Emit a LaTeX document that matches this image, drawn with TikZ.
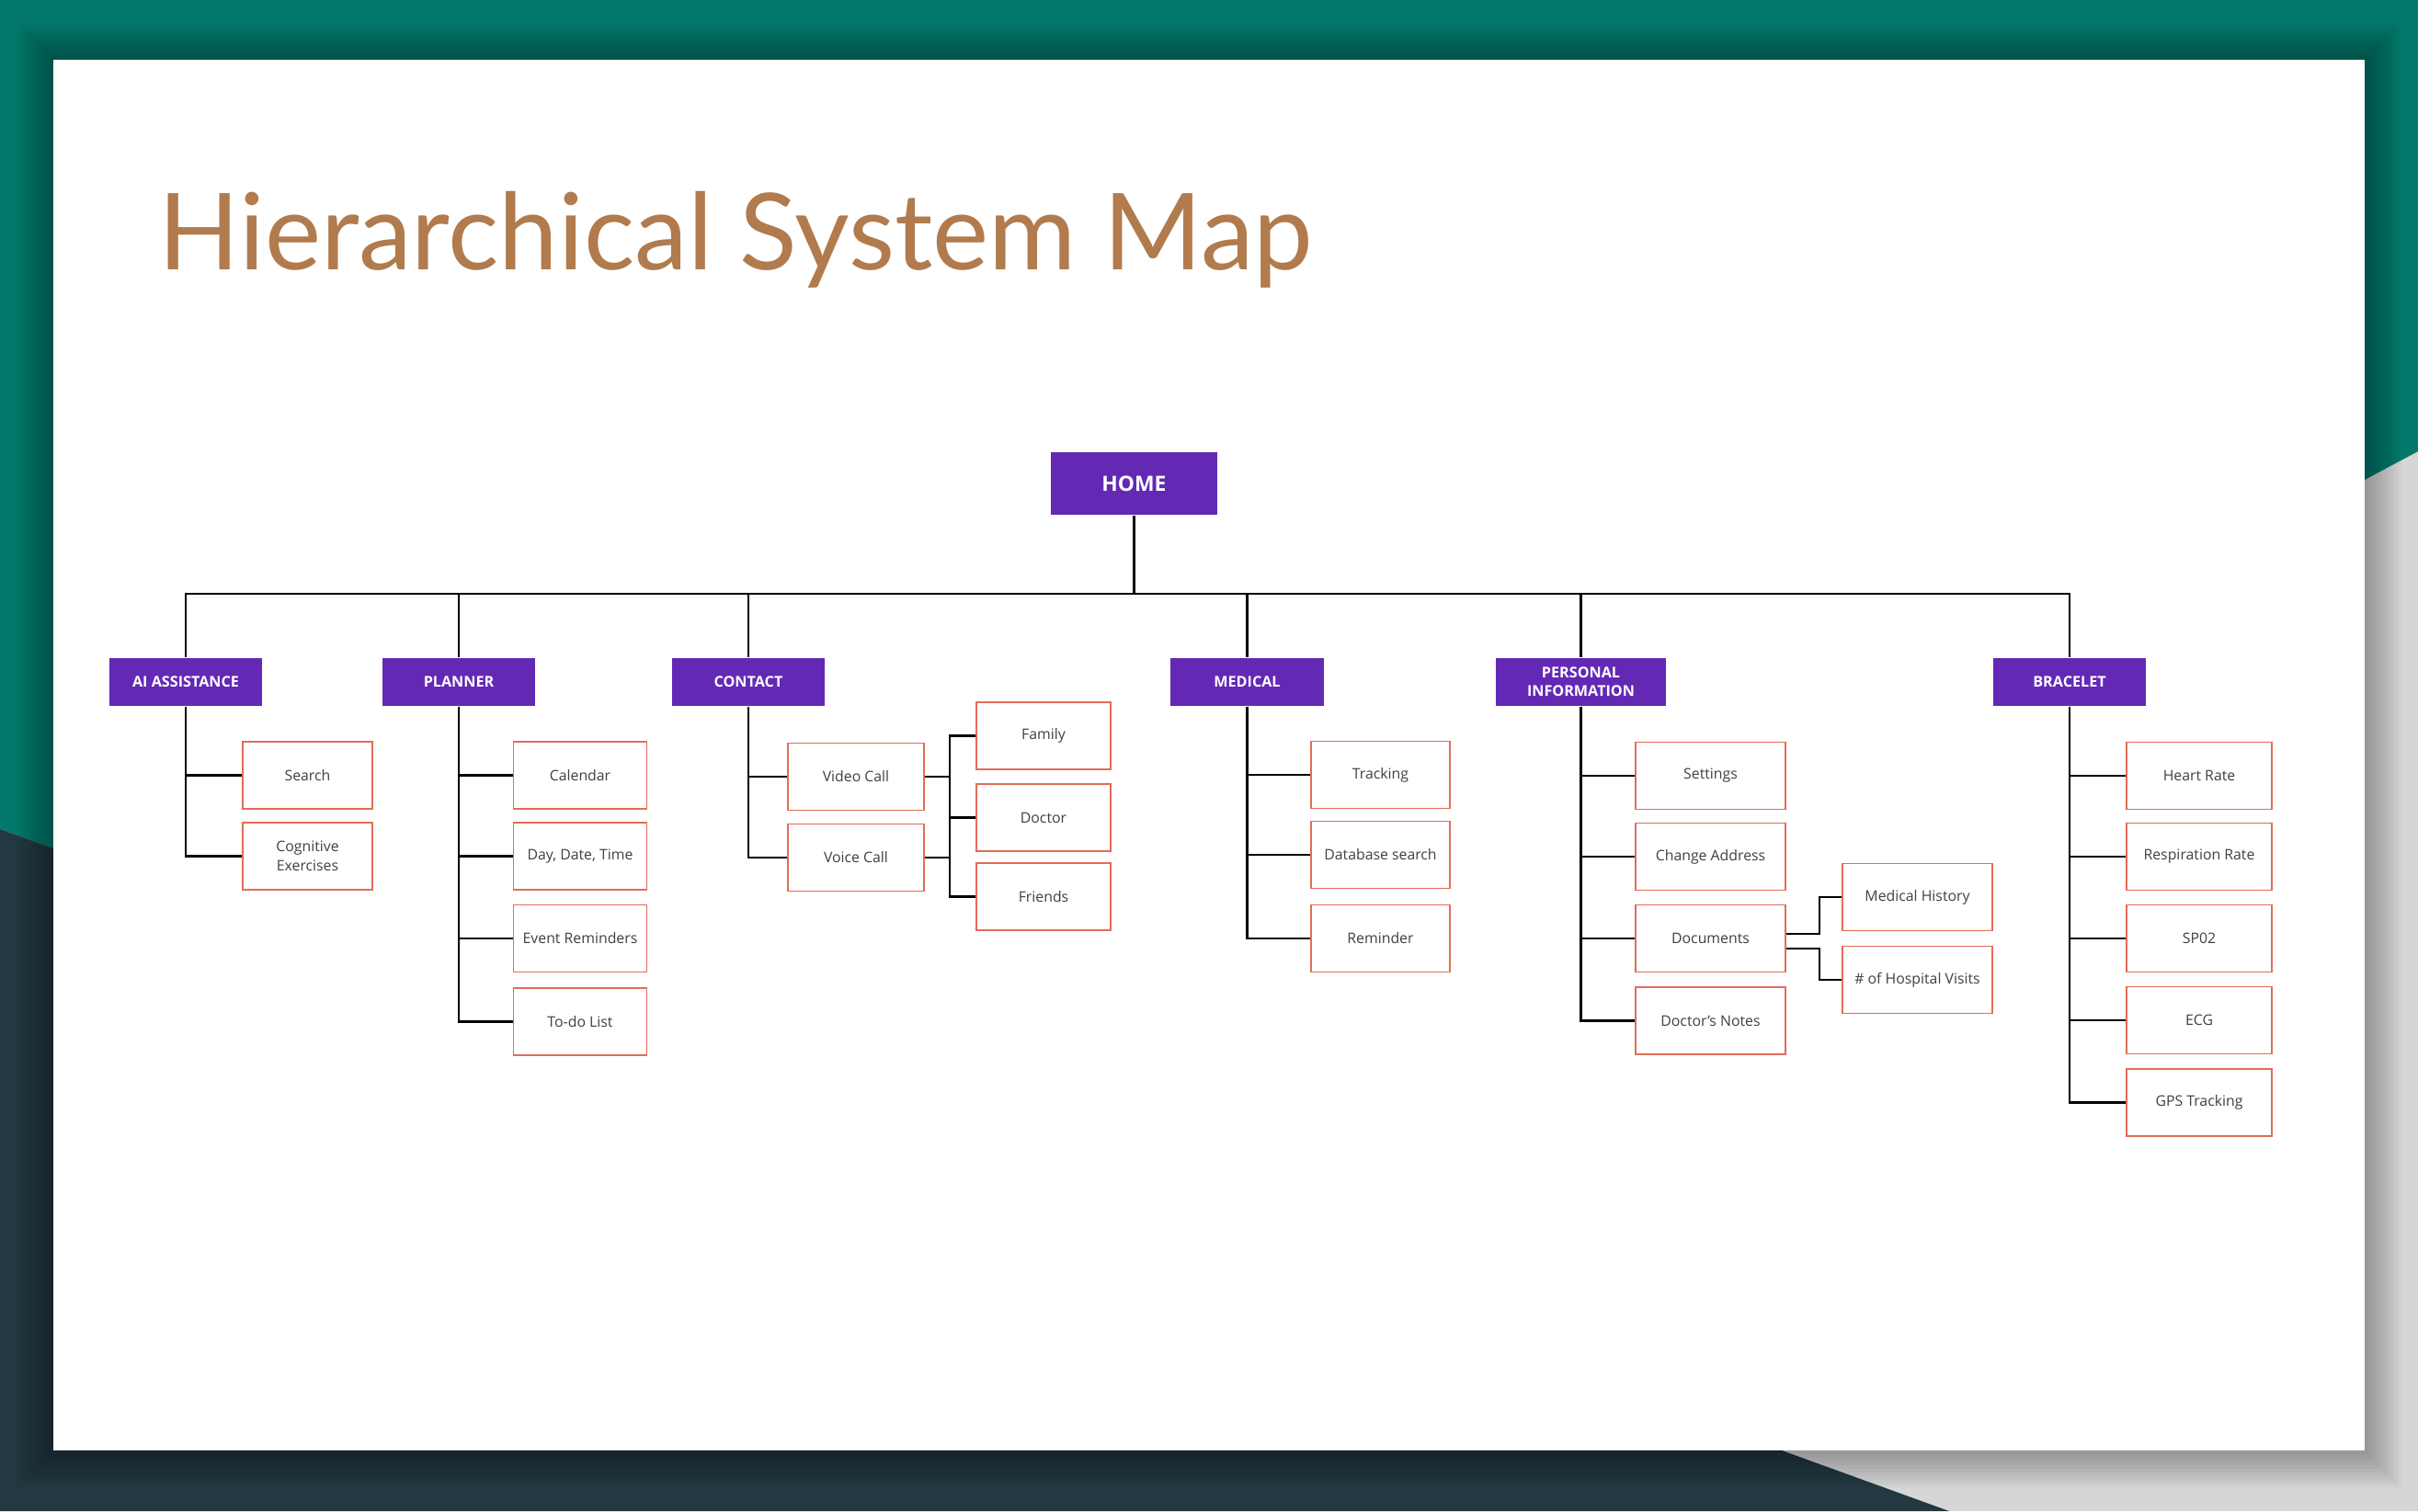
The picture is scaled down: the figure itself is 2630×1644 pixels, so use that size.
\documentclass[tikz,border=0pt]{standalone}
\usepackage{fontspec}
\setmainfont{Open Sans}
\newfontfamily\titlefont{Lato}
\definecolor{tealbg}{RGB}{3,121,108}
\definecolor{slatebg}{RGB}{35,56,65}
\definecolor{graybg}{RGB}{214,214,214}
\definecolor{purp}{RGB}{99,41,181}
\definecolor{salmon}{RGB}{226,108,88}
\definecolor{titlec}{RGB}{177,123,78}
\definecolor{txt}{RGB}{64,64,64}
\begin{document}
\begin{tikzpicture}[x=0.01cm,y=-0.01cm,
  catbox/.style={fill=purp, draw=none, text=white, font=\fontsize{4.6}{5.6}\selectfont\bfseries,
    minimum width=1.66cm, minimum height=0.52cm, inner sep=0pt, align=center},
  leaf/.style={draw=salmon, line width=0.5pt, fill=white, text=txt, font=\fontsize{4.5}{6}\selectfont,
    minimum height=0.73cm, inner sep=0pt, align=center},
  link/.style={draw=black, line width=0.7pt},
]
\useasboundingbox (0,0) rectangle (2630,1644);
% background
\fill[graybg] (0,0) rectangle (2630,1644);
\fill[tealbg] (0,0) -- (2630,0) -- (2630,491) -- (2572,522) -- (1500,800) -- (58,923) -- (0,902) -- cycle;
\fill[slatebg] (0,902) -- (58,923) -- (1000,1300) -- (1938,1578) -- (2120,1644) -- (0,1644) -- cycle;
\foreach \i in {1,...,10}
  \fill[black,opacity=0.03] (58-4*\i,65-4*\i) rectangle (2572+4*\i,1578+4*\i);
\fill[white] (58,65) rectangle (2572,1578);

% title
\node[anchor=base west, inner sep=0pt, text=titlec, font=\titlefont\fontsize{32.9}{39}\selectfont] (title) at (172,293) {Hierarchical System Map};

% root and categories
\node[catbox, minimum width=1.81cm, minimum height=0.68cm, font=\fontsize{6.5}{8}\selectfont\bfseries] (home) at (1233.5,526) {HOME};
\node[catbox] (ai) at (202,742) {AI ASSISTANCE};
\node[catbox] (planner) at (499,742) {PLANNER};
\node[catbox] (contact) at (814,742) {CONTACT};
\node[catbox] (medical) at (1356.5,742) {MEDICAL};
\node[catbox, minimum width=1.85cm] (personal) at (1719.5,742) {PERSONAL\\INFORMATION};
\node[catbox] (bracelet) at (2251,742) {BRACELET};

% leaves
\node[leaf, minimum width=1.41cm] (search) at (334.5,843.5) {Search};
\node[leaf, minimum width=1.41cm] (cognitive) at (334.5,931.5) {Cognitive\\Exercises};

\node[leaf, minimum width=1.45cm] (calendar) at (631,843.5) {Calendar};
\node[leaf, minimum width=1.45cm] (daydate) at (631,931.5) {Day, Date, Time};
\node[leaf, minimum width=1.45cm] (event) at (631,1021) {Event Reminders};
\node[leaf, minimum width=1.45cm] (todo) at (631,1111.5) {To-do List};

\node[leaf, minimum width=1.48cm] (video) at (931,845) {Video Call};
\node[leaf, minimum width=1.48cm] (voice) at (931,933) {Voice Call};
\node[leaf, minimum width=1.46cm] (family) at (1135,800.5) {Family};
\node[leaf, minimum width=1.46cm] (doctor) at (1135,889.5) {Doctor};
\node[leaf, minimum width=1.46cm] (friends) at (1135,975.5) {Friends};

\node[leaf, minimum width=1.51cm] (tracking) at (1501.5,843) {Tracking};
\node[leaf, minimum width=1.51cm] (database) at (1501.5,930) {Database search};
\node[leaf, minimum width=1.51cm] (reminder) at (1501.5,1021) {Reminder};

\node[leaf, minimum width=1.63cm] (settings) at (1860.5,844) {Settings};
\node[leaf, minimum width=1.63cm] (address) at (1860.5,932) {Change Address};
\node[leaf, minimum width=1.63cm] (documents) at (1860.5,1021) {Documents};
\node[leaf, minimum width=1.63cm] (notes) at (1860.5,1110.5) {Doctor's Notes};
\node[leaf, minimum width=1.63cm] (medhist) at (2085.5,976) {Medical History};
\node[leaf, minimum width=1.63cm] (hospital) at (2085.5,1066) {\# of Hospital Visits};

\node[leaf, minimum width=1.58cm] (heart) at (2392,844) {Heart Rate};
\node[leaf, minimum width=1.58cm] (resp) at (2392,932) {Respiration Rate};
\node[leaf, minimum width=1.58cm] (spo) at (2392,1021) {SP02};
\node[leaf, minimum width=1.58cm] (ecg) at (2392,1110) {ECG};
\node[leaf, minimum width=1.58cm] (gps) at (2392,1199.5) {GPS Tracking};

% connectors
\coordinate (bus) at (0,646);
\coordinate (cj) at (1033,0);
\draw[link] (home.south) -- (home.south |- bus);
\draw[link] (ai.north) -- (ai.north |- bus) -- (bracelet.north |- bus) -- (bracelet.north);
\foreach \c in {planner,contact,medical,personal}
  \draw[link] (\c.north) -- (\c.north |- bus);

\foreach \p/\k in {ai/search, ai/cognitive,
    planner/calendar, planner/daydate, planner/event, planner/todo,
    contact/video, contact/voice,
    medical/tracking, medical/database, medical/reminder,
    personal/settings, personal/address, personal/documents, personal/notes,
    bracelet/heart, bracelet/resp, bracelet/spo, bracelet/ecg, bracelet/gps}
  \draw[link] (\p.south) |- (\k.west);

\draw[link] (family.west) -- (family.west -| cj) -- (friends.west -| cj) -- (friends.west);
\draw[link] (doctor.west) -- (doctor.west -| cj);
\draw[link] (video.east) -- (video.east -| cj);
\draw[link] (voice.east) -- (voice.east -| cj);

\draw[link] ([yshift=0.05cm]documents.east) -- ++(36,0) |- (medhist.west);
\draw[link] ([yshift=-0.11cm]documents.east) -- ++(36,0) |- (hospital.west);
\end{tikzpicture}
\end{document}
